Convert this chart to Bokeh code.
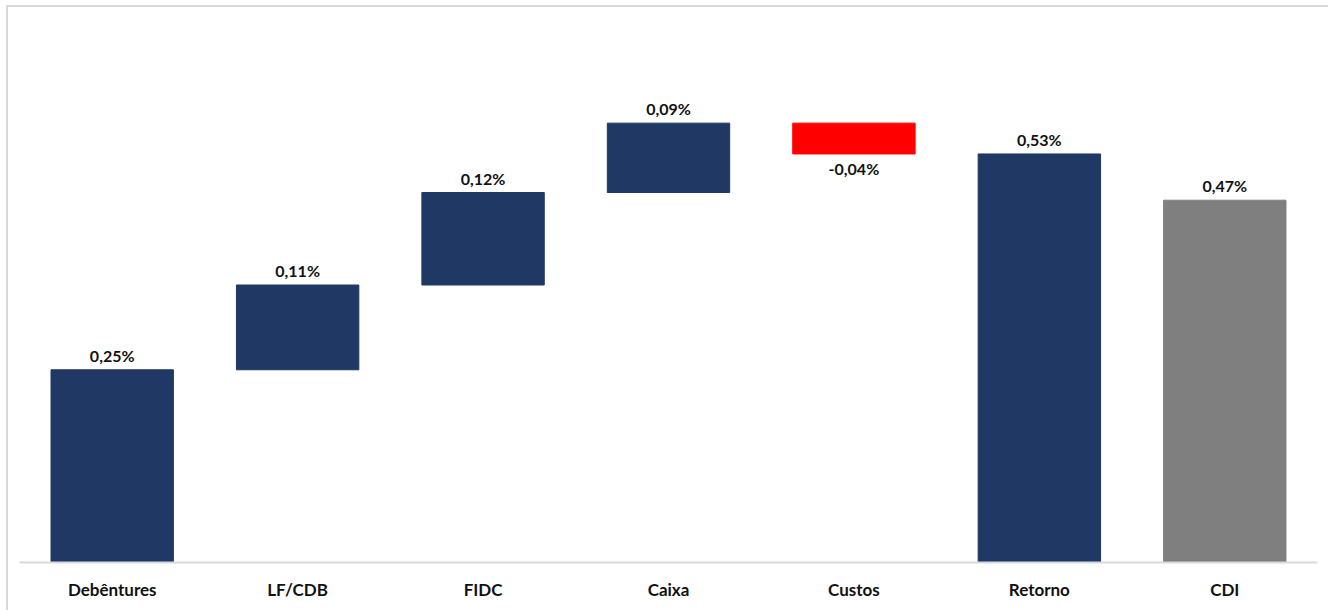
from bokeh.plotting import figure
from bokeh.models import ColumnDataSource, Range1d
from bokeh.embed import file_html
from bokeh.resources import INLINE
from bokeh.core.properties import value

categories = ["Debêntures", "LF/CDB", "FIDC", "Caixa", "Custos", "Retorno", "CDI"]
values = [0.25, 0.11, 0.12, 0.09, -0.04, 0.53, 0.47]
kinds = ["step", "step", "step", "step", "step", "total", "total"]
colors = ["#203864", "#203864", "#203864", "#203864", "#FF0000", "#203864", "#7F7F7F"]

bottoms, tops = [], []
running = 0.0
for v, k in zip(values, kinds):
    if k == "step":
        b, t = running, running + v
        running = t
    else:
        b, t = 0.0, v
    bottoms.append(min(b, t))
    tops.append(max(b, t))

labels = [("%.2f" % v).replace(".", ",") + "%" for v in values]
pos_y = [t for t, v in zip(tops, values) if v >= 0]
pos_x = [c for c, v in zip(categories, values) if v >= 0]
pos_l = [l for l, v in zip(labels, values) if v >= 0]
neg_y = [b for b, v in zip(bottoms, values) if v < 0]
neg_x = [c for c, v in zip(categories, values) if v < 0]
neg_l = [l for l, v in zip(labels, values) if v < 0]

src = ColumnDataSource(dict(x=categories, top=tops, bottom=bottoms, color=colors))

p = figure(x_range=categories, y_range=Range1d(0, 0.72), width=1322, height=605,
           output_backend="svg", toolbar_location=None,
           min_border_left=11, min_border_right=13, min_border_top=0, min_border_bottom=50)
p.x_range.range_padding = 0
p.vbar(x="x", top="top", bottom="bottom", width=0.66, color="color", source=src)

font = value("Lato")
p.text(x=pos_x, y=pos_y, text=pos_l, text_font=font, text_font_style="bold",
       text_font_size="16px", text_color="#111111", text_align="center",
       text_baseline="bottom", y_offset=-5)
p.text(x=neg_x, y=neg_y, text=neg_l, text_font=font, text_font_style="bold",
       text_font_size="16px", text_color="#111111", text_align="center",
       text_baseline="top", y_offset=5)

p.yaxis.visible = False
p.grid.visible = False
p.outline_line_color = None
p.xaxis.axis_line_color = "#D9D9D9"
p.xaxis.axis_line_width = 2
p.xaxis.major_tick_line_color = None
p.xaxis.minor_tick_line_color = None
p.xaxis.major_label_standoff = 10
p.xaxis.major_label_text_font = "Lato"
p.xaxis.major_label_text_font_style = "bold"
p.xaxis.major_label_text_font_size = "17px"
p.xaxis.major_label_text_color = "#111111"
p.styles = {"border-left": "2px solid #D9D9D9", "border-top": "2px solid #D9D9D9",
            "box-sizing": "border-box", "margin-left": "6px", "margin-top": "5px"}

open("out.html", "w").write(file_html(p, INLINE))
